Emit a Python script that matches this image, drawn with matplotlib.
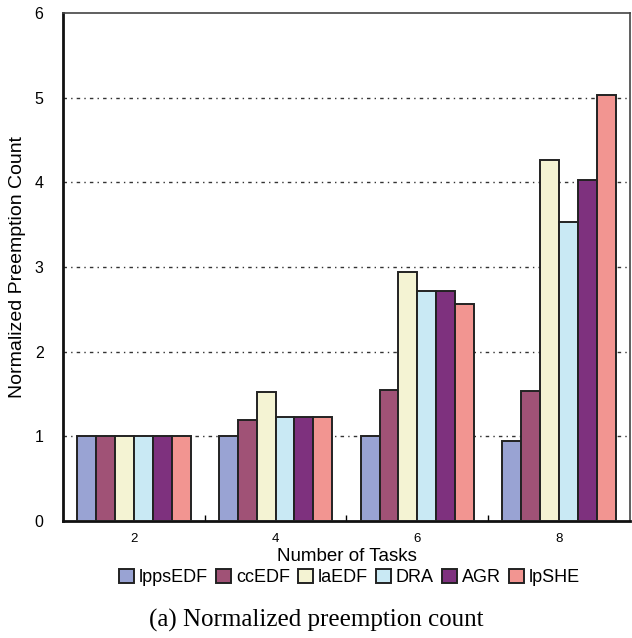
import matplotlib.pyplot as plt
import numpy as np

plt.rcParams['font.family'] = ['Liberation Sans', 'DejaVu Sans']

tasks = ["2", "4", "6", "8"]
schemes = ["lppsEDF", "ccEDF", "laEDF", "DRA", "AGR", "lpSHE"]
lppsedf = [1.00, 1.00, 1.00, 0.95]
ccedf = [1.00, 1.19, 1.55, 1.54]
laedf = [1.00, 1.52, 2.94, 4.26]
dra = [1.00, 1.23, 2.72, 3.53]
agr = [1.00, 1.23, 2.72, 4.03]
lpshe = [1.00, 1.23, 2.56, 5.03]
colors = ["#99a3d3", "#a05276", "#f4f3d3", "#c9e9f4", "#7e317e", "#f29591"]

series = [lppsedf, ccedf, laedf, dra, agr, lpshe]

fig = plt.figure(figsize=(6.32, 6.38), dpi=100)
ax = fig.add_axes([0.0997, 0.1834, 0.897, 0.7962])

x = np.arange(len(tasks)) + 0.5
w = 0.8 / len(schemes)
for i, (name, vals) in enumerate(zip(schemes, series)):
    ax.bar(x - 0.4 + w * (i + 0.5), vals, w, color=colors[i],
           edgecolor="#222222", linewidth=1.4, label=name, zorder=3)

ax.set_xlim(0, len(tasks))
ax.set_ylim(0, 6)
ax.set_xticks(x)
ax.set_xticklabels(tasks, fontsize=9.5)
ax.set_xticks(np.arange(1, len(tasks)), minor=True)
ax.tick_params(axis="x", which="major", length=0, pad=9)
ax.tick_params(axis="x", which="minor", direction="in", length=4, width=1)
ax.set_yticks(range(7))
ax.tick_params(axis="y", length=0, labelsize=11.5, pad=14)

for y in range(1, 6):
    ax.axhline(y, color="#333333", linewidth=1, linestyle=(0, (2.5, 3, 1, 3)), zorder=1)

for side in ["left", "bottom"]:
    ax.spines[side].set_linewidth(2)
    ax.spines[side].set_color("#111111")
for side in ["top", "right"]:
    ax.spines[side].set_linewidth(1.2)
    ax.spines[side].set_color("#444444")

ax.set_xlabel("Number of Tasks", fontsize=13.5, labelpad=2)
ax.set_ylabel("Normalized Preemption Count", fontsize=14, labelpad=6)

fig.legend(loc="center", bbox_to_anchor=(0.553, 0.095), ncol=6, frameon=False,
           fontsize=13, handlelength=0.85, handleheight=0.85, handletextpad=0.25,
           columnspacing=0.45, borderpad=0)

fig.text(0.5, 0.028, "(a) Normalized preemption count", ha="center", va="center",
         fontsize=18, family=["Liberation Serif", "DejaVu Serif"])

fig.savefig("out.png", dpi=100)
